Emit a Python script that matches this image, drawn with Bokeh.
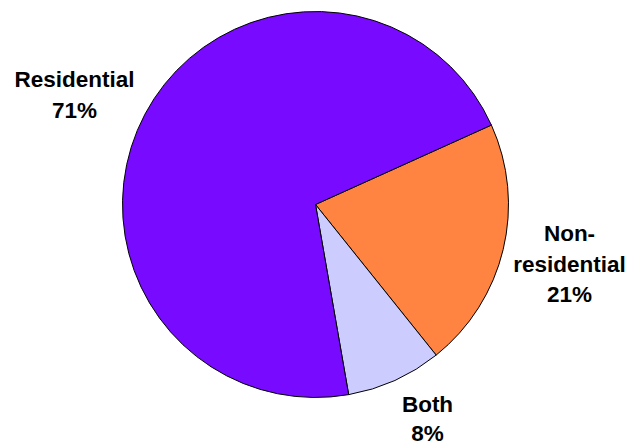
import math
from bokeh.plotting import figure
from bokeh.models import ColumnDataSource
from bokeh.core.properties import value
from bokeh.embed import file_html
from bokeh.resources import INLINE

# ---- data ----
categories = ["Residential", "Non-residential", "Both"]
shares = [71, 21, 8]
label_lines = [["Residential", "71%"], ["Non-", "residential", "21%"], ["Both", "8%"]]
colors = ["#780BFF", "#FF8442", "#CCCCFF"]

# ---- layout ----
W, H = 629, 447
cx, cy = 315, H - 204
R = 193
start_deg = 24.3  # boundary between Residential and Non-residential

p = figure(width=W, height=H, x_range=(0, W), y_range=(0, H),
           output_backend="svg", toolbar_location=None, min_border=0)
p.axis.visible = False
p.grid.visible = False
p.outline_line_color = None
p.background_fill_color = "white"

total = sum(shares)
order_clock = ["Non-residential", "Both", "Residential"]
starts, ends, cols = [], [], []
a = start_deg
for c in order_clock:
    i = categories.index(c)
    span = shares[i] / total * 360.0
    starts.append(math.radians(a - span))
    ends.append(math.radians(a))
    cols.append(colors[i])
    a -= span

src = ColumnDataSource(dict(x=[cx] * 3, y=[cy] * 3, s=starts, e=ends, c=cols))
p.wedge(x="x", y="y", radius=R, radius_units="screen", start_angle="s", end_angle="e",
        fill_color="c", line_color="black", line_width=1, source=src)

# label anchors: (center x, first-line middle y, line spacing) in top-down pixels
anchors = {"Residential": (74, 79, 30.5), "Non-residential": (569, 233, 30.5), "Both": (427, 404, 29)}
xs, ys, ts = [], [], []
for c, lines in zip(categories, label_lines):
    ax, ay, lh = anchors[c]
    for k, t in enumerate(lines):
        xs.append(ax)
        ys.append(H - (ay + k * lh))
        ts.append(t)
p.text(x=xs, y=ys, text=ts, text_font=value("Liberation Sans"), text_font_style="bold",
       text_font_size="22.5px", text_align="center", text_baseline="middle", text_color="black")

open("out.html", "w").write(file_html(p, INLINE))
